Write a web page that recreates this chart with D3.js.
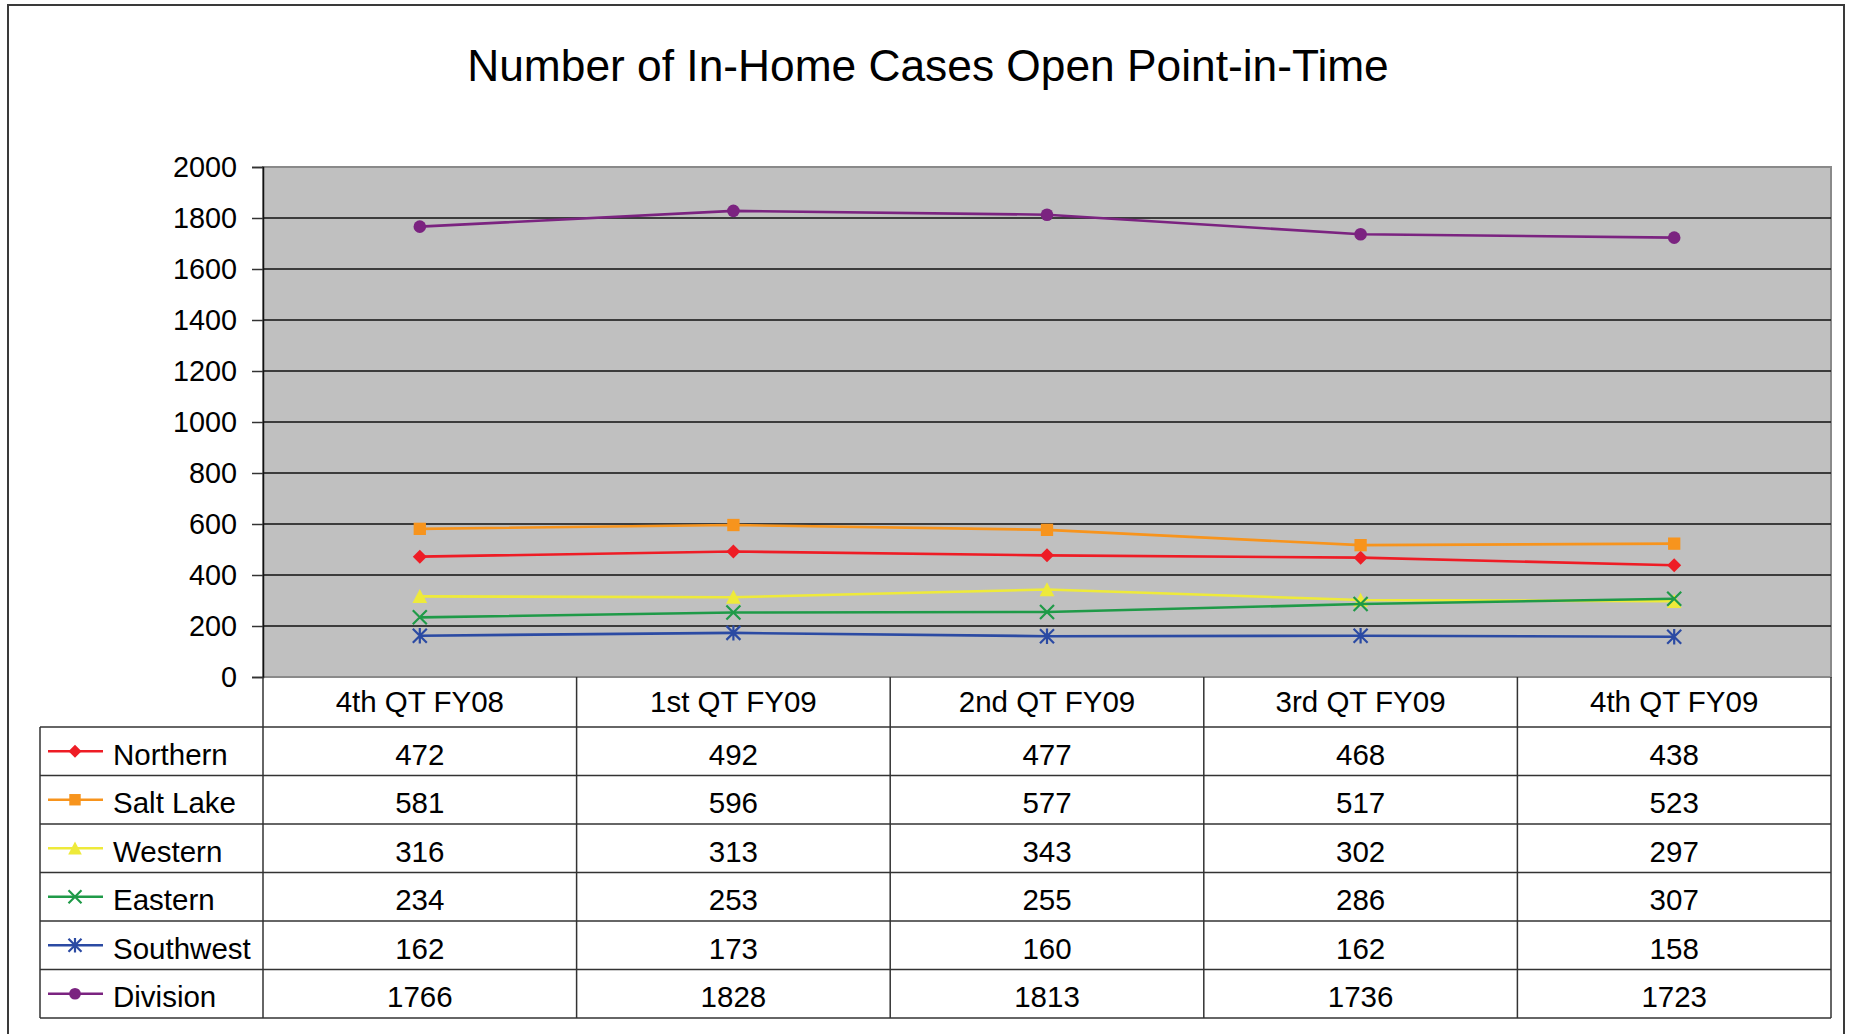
<!DOCTYPE html>
<html>
<head>
<meta charset="utf-8">
<script src="https://cdn.jsdelivr.net/npm/d3@7"></script>
<style>
  body { margin: 0; background: #fff; }
  svg { display: block; font-family: "Liberation Sans", Arial, sans-serif; }
</style>
</head>
<body>
<svg id="drawing_region"></svg>
<script>
// data
const categories = ["4th QT FY08", "1st QT FY09", "2nd QT FY09", "3rd QT FY09", "4th QT FY09"];
const seriesNames = ["Northern", "Salt Lake", "Western", "Eastern", "Southwest", "Division"];
const northern  = [472, 492, 477, 468, 438];
const saltLake  = [581, 596, 577, 517, 523];
const western   = [316, 313, 343, 302, 297];
const eastern   = [234, 253, 255, 286, 307];
const southwest = [162, 173, 160, 162, 158];
const division  = [1766, 1828, 1813, 1736, 1723];
const yTicks = [0, 200, 400, 600, 800, 1000, 1200, 1400, 1600, 1800, 2000];

const colors  = ["#ee1c25", "#f7941d", "#eeea3a", "#1f9a48", "#2b4aa3", "#7b2380"];
const markers = ["diamond", "square", "triangle", "x", "star", "circle"];

const series = seriesNames.map((name, i) => ({
    name: name,
    values: [northern, saltLake, western, eastern, southwest, division][i],
    color: colors[i],
    marker: markers[i]
}));

const W = 1849, H = 1034;
const plot = { left: 263, right: 1831, top: 167, bottom: 677 };
const table = { left: 40, headH: 50, rowH: 48.5 };
const fs = 29.5;

const svg = d3.select('#drawing_region')
    .attr('width', W)
    .attr('height', H);

// outer frame
svg.append('rect')
    .attr('x', 8).attr('y', 5)
    .attr('width', 1836).attr('height', 1060)
    .attr('fill', 'none')
    .attr('stroke', '#3a3a3a')
    .attr('stroke-width', 2);

// title
svg.append('text')
    .attr('x', 928).attr('y', 80.5)
    .attr('text-anchor', 'middle')
    .attr('font-size', 44.3)
    .text('Number of In-Home Cases Open Point-in-Time');

const xscale = d3.scaleBand()
    .domain(categories)
    .range([plot.left, plot.right])
    .padding(0);
const xc = c => xscale(c) + xscale.bandwidth() / 2;

const yscale = d3.scaleLinear()
    .domain([0, 2000])
    .range([plot.bottom, plot.top]);

// plot background
svg.append('rect')
    .attr('x', plot.left).attr('y', plot.top)
    .attr('width', plot.right - plot.left)
    .attr('height', plot.bottom - plot.top)
    .attr('fill', '#c0c0c0')
    .attr('stroke', '#8a8a8a')
    .attr('stroke-width', 2);

// gridlines
svg.append('g')
    .selectAll('line')
    .data(yTicks.filter(d => d > 0 && d < 2000))
    .enter().append('line')
    .attr('x1', plot.left).attr('x2', plot.right)
    .attr('y1', d => yscale(d)).attr('y2', d => yscale(d))
    .attr('stroke', '#111')
    .attr('stroke-width', 1.5);

// y axis
const yAxis = d3.axisLeft(yscale)
    .tickValues(yTicks)
    .tickSize(11)
    .tickPadding(15)
    .tickFormat(d3.format('d'));
const yg = svg.append('g')
    .attr('transform', `translate(${plot.left},0)`)
    .call(yAxis);
yg.select('.domain').attr('stroke', '#111').attr('stroke-width', 1.5);
yg.selectAll('.tick line').attr('stroke', '#333').attr('stroke-width', 1.5);
yg.selectAll('.tick text')
    .attr('font-size', 28.8)
    .attr('font-family', '"Liberation Sans", Arial, sans-serif')
    .attr('fill', '#000');

// marker shapes
function markerPath(type, s) {
    const p = d3.path();
    if (type === 'diamond') {
        p.moveTo(0, -s); p.lineTo(s, 0); p.lineTo(0, s); p.lineTo(-s, 0); p.closePath();
    } else if (type === 'square') {
        p.rect(-s * 0.88, -s * 0.88, s * 1.76, s * 1.76);
    } else if (type === 'triangle') {
        p.moveTo(0, -s * 1.05); p.lineTo(s * 1.05, s * 0.95); p.lineTo(-s * 1.05, s * 0.95); p.closePath();
    } else if (type === 'x') {
        p.moveTo(-s, -s); p.lineTo(s, s); p.moveTo(-s, s); p.lineTo(s, -s);
    } else if (type === 'star') {
        p.moveTo(-s, -s); p.lineTo(s, s); p.moveTo(-s, s); p.lineTo(s, -s);
        p.moveTo(0, -s * 1.1); p.lineTo(0, s * 1.1);
    } else {
        p.arc(0, 0, s * 0.9, 0, Math.PI * 2);
    }
    return p.toString();
}
function styleMarker(sel, d) {
    const stroked = d.marker === 'x' || d.marker === 'star';
    sel.attr('fill', stroked ? 'none' : d.color)
        .attr('stroke', stroked ? d.color : 'none')
        .attr('stroke-width', stroked ? 2.2 : 0);
}

// lines and markers
const line = d3.line()
    .x((v, i) => xc(categories[i]))
    .y(v => yscale(v));

const sg = svg.append('g').selectAll('g')
    .data(series)
    .enter().append('g');

sg.append('path')
    .attr('d', d => line(d.values))
    .attr('fill', 'none')
    .attr('stroke', d => d.color)
    .attr('stroke-width', 2.6);

sg.each(function(d) {
    d3.select(this).selectAll('path.mk')
        .data(d.values)
        .enter().append('path')
        .attr('class', 'mk')
        .attr('transform', (v, i) => `translate(${xc(categories[i])},${yscale(v)})`)
        .attr('d', markerPath(d.marker, 7))
        .call(styleMarker, d);
});

// data table
const tg = svg.append('g');
const rowTop = i => plot.bottom + table.headH + i * table.rowH;
const tableBottom = rowTop(series.length);

// header labels
tg.selectAll('text.head')
    .data(categories)
    .enter().append('text')
    .attr('class', 'head')
    .attr('x', d => xc(d))
    .attr('y', plot.bottom + table.headH / 2 + 10)
    .attr('text-anchor', 'middle')
    .attr('font-size', fs)
    .text(d => d);

// horizontal rules
tg.selectAll('line.h')
    .data(d3.range(series.length + 1))
    .enter().append('line')
    .attr('x1', table.left).attr('x2', plot.right)
    .attr('y1', i => rowTop(i)).attr('y2', i => rowTop(i))
    .attr('stroke', '#333').attr('stroke-width', 1.5);

// vertical rules
const vx = categories.map(c => xscale(c)).concat([plot.right]);
tg.selectAll('line.v')
    .data(vx)
    .enter().append('line')
    .attr('x1', d => d).attr('x2', d => d)
    .attr('y1', plot.bottom).attr('y2', tableBottom)
    .attr('stroke', '#333').attr('stroke-width', 1.5);
tg.append('line')
    .attr('x1', table.left).attr('x2', table.left)
    .attr('y1', rowTop(0)).attr('y2', tableBottom)
    .attr('stroke', '#333').attr('stroke-width', 1.5);

// rows
const rows = tg.selectAll('g.row')
    .data(series)
    .enter().append('g')
    .attr('class', 'row')
    .attr('transform', (d, i) => `translate(0,${rowTop(i) + table.rowH / 2})`);

rows.append('line')
    .attr('x1', 48).attr('x2', 103)
    .attr('y1', 0).attr('y2', 0)
    .attr('stroke', d => d.color)
    .attr('stroke-width', 2.5);
rows.append('path')
    .attr('transform', 'translate(75,0)')
    .attr('d', d => markerPath(d.marker, 6.5))
    .each(function(d) { d3.select(this).call(styleMarker, d); });
rows.append('text')
    .attr('x', 113).attr('y', 13.5)
    .attr('font-size', fs)
    .text(d => d.name);

rows.selectAll('text.val')
    .data(d => d.values)
    .enter().append('text')
    .attr('class', 'val')
    .attr('x', (v, i) => xc(categories[i]))
    .attr('y', 13.5)
    .attr('text-anchor', 'middle')
    .attr('font-size', fs)
    .text(v => v);
</script>
</body>
</html>
